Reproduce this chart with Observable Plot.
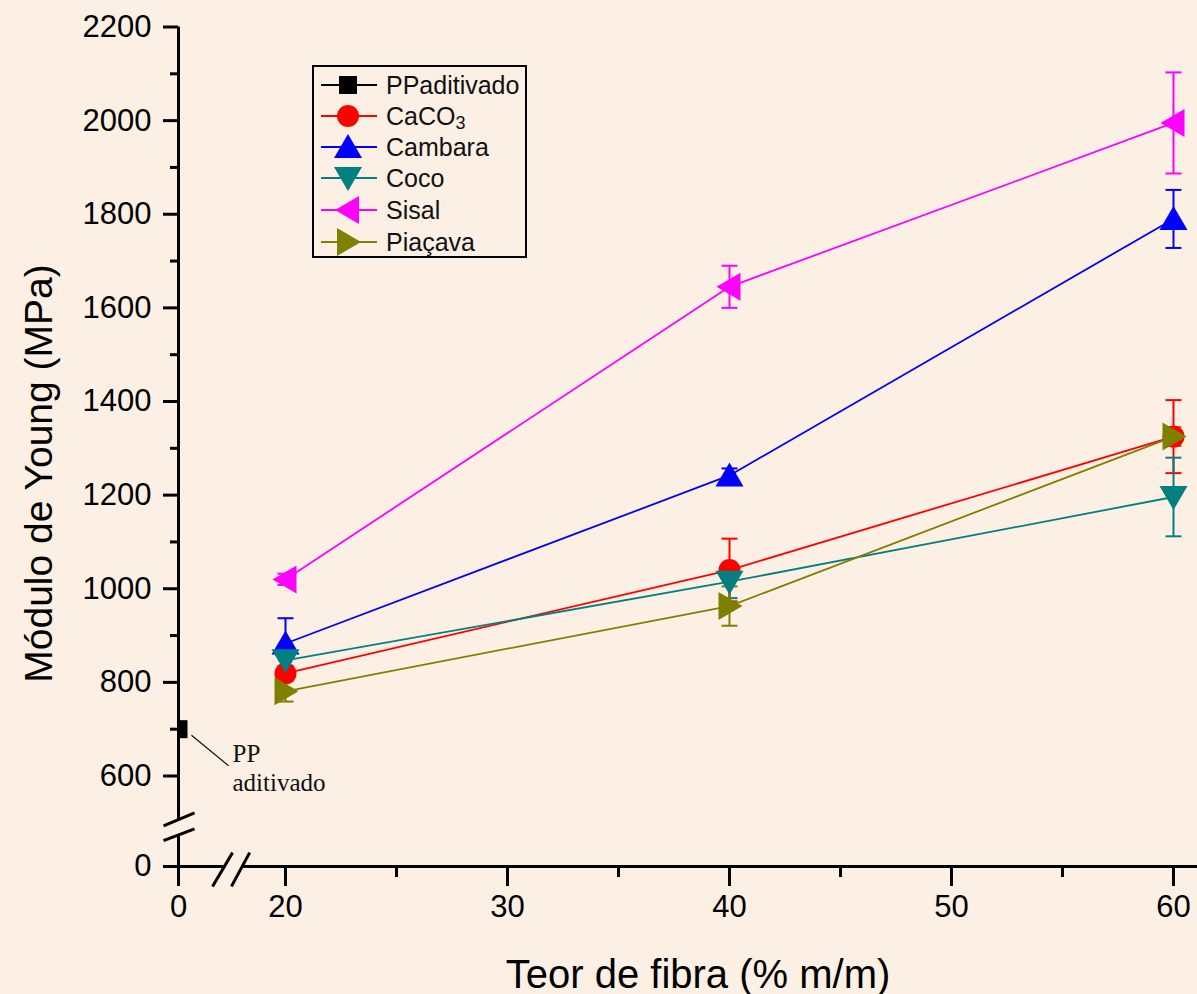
<!DOCTYPE html>
<html><head><meta charset="utf-8">
<script src="https://cdn.jsdelivr.net/npm/d3@7"></script>
<script src="https://cdn.jsdelivr.net/npm/@observablehq/plot@0.6"></script>
<style>
html,body{margin:0;padding:0;background:#fcefe3;}
#chart{position:relative;width:1197px;height:994px;}
</style></head><body><div id="chart"></div>
<script>
// ---- data ----
const fibra = [20, 40, 60];
const seriesNames = ["PPaditivado", "CaCO3", "Cambara", "Coco", "Sisal", "Piaçava"];
const seriesColors = ["#000000", "#ff0000", "#0000ff", "#008080", "#ff00ff", "#808000"];
const ppX = [0];
const ppY = [700];
const caco3 = [819, 1040, 1325];
const caco3Err = [15, 67, 78];
const cambara = [883, 1242, 1790];
const cambaraErr = [54, 15, 62];
const coco = [847, 1015, 1196];
const cocoErr = [12, 35, 84];
const sisal = [1020, 1645, 1995];
const sisalErr = [12, 45, 108];
const piacava = [781, 963, 1325];
const piacavaErr = [22, 42, 20];
const xTicks = [0, 20, 30, 40, 50, 60];
const xMinor = [25, 35, 45, 55];
const yTicks = [0, 600, 800, 1000, 1200, 1400, 1600, 1800, 2000, 2200];
const yMinor = [700, 900, 1100, 1300, 1500, 1700, 1900, 2100];
const xTitle = "Teor de fibra (% m/m)";
const yTitle = "Módulo de Young (MPa)";
const ppNote = "PP\naditivado";

// ---- symbols ----
const poly = pts => ({draw(ctx) { ctx.moveTo(pts[0][0], pts[0][1]); for (const p of pts.slice(1)) ctx.lineTo(p[0], p[1]); ctx.closePath(); }});
const symSquare = {draw(ctx) { ctx.rect(-9, -9, 18, 18); }};
const symCircle = {draw(ctx) { ctx.moveTo(11, 0); ctx.arc(0, 0, 11, 0, 2 * Math.PI); }};
const symUp = poly([[0, -13], [14, 11], [-14, 11]]);
const symDown = poly([[0, 13], [14, -11], [-14, -11]]);
const symLeft = poly([[-13, 0], [11, -14], [11, 14]]);
const symRight = poly([[13, 0], [-11, -14], [-11, 14]]);
const symCap = {draw(ctx) { ctx.moveTo(-8, 0); ctx.lineTo(8, 0); }};
const symbols = [symSquare, symCircle, symUp, symDown, symLeft, symRight];

const values = [ppY, caco3, cambara, coco, sisal, piacava];
const errs = [[0], caco3Err, cambaraErr, cocoErr, sisalErr, piacavaErr];
const tables = values.map((v, i) => v.map((y, j) => ({
  x: i === 0 ? ppX[j] : fibra[j], y, lo: y - errs[i][j], hi: y + errs[i][j]
})));

// axis break layout (data units of the broken scales)
const xAxisSegs = [{x1: 0, x2: 8.4}, {x1: 11.8, x2: 61.1}];
const yAxisSegs = [{y1: 0, y2: 211}, {y1: 310, y2: 2200}];
const breakSlashes = [
  {x1: 6.36, y1: -132, x2: 10.1, y2: 92}, {x1: 9.9, y1: -132, x2: 13.3, y2: 92},
  {x1: -2.8, y1: 171, x2: 3.0, y2: 250}, {x1: -2.8, y1: 270, x2: 3.0, y2: 356}
];
const leader = [{x1: 2.43, y1: 687, x2: 9.35, y2: 622}];

const marks = [];
// data lines
tables.forEach((t, i) => { if (t.length > 1) marks.push(Plot.line(t, {x: "x", y: "y", stroke: seriesColors[i], strokeWidth: 1.8})); });
// error bars
tables.forEach((t, i) => {
  if (i === 0) return;
  marks.push(Plot.ruleX(t, {x: "x", y1: "lo", y2: "hi", stroke: seriesColors[i], strokeWidth: 2}));
  marks.push(Plot.dot(t, {x: "x", y: "hi", symbol: symCap, r: 8, fill: "none", stroke: seriesColors[i], strokeWidth: 2}));
  marks.push(Plot.dot(t, {x: "x", y: "lo", symbol: symCap, r: 8, fill: "none", stroke: seriesColors[i], strokeWidth: 2}));
});
// markers
tables.forEach((t, i) => {
  marks.push(Plot.dot(t, {x: "x", y: "y", symbol: symbols[i], r: 10, fill: seriesColors[i], stroke: "none", clip: i === 0}));
});
// annotation
marks.push(Plot.link(leader, {x1: "x1", y1: "y1", x2: "x2", y2: "y2", stroke: "#111", strokeWidth: 1.2}));
marks.push(Plot.text(tables[0], {x: "x", y: "y", text: () => ppNote, dx: 54, dy: 12, lineAnchor: "top", textAnchor: "start",
  fontFamily: "Liberation Serif, Times New Roman, serif", fontSize: 25, lineHeight: 1.16, fill: "#111"}));
// axes
marks.push(Plot.ruleY(xAxisSegs, {y: 0, x1: "x1", x2: "x2", stroke: "#000", strokeWidth: 3}));
marks.push(Plot.ruleX(yAxisSegs, {x: 0, y1: "y1", y2: "y2", stroke: "#000", strokeWidth: 3}));
marks.push(Plot.link(breakSlashes, {x1: "x1", y1: "y1", x2: "x2", y2: "y2", stroke: "#000", strokeWidth: 3}));
marks.push(Plot.axisX(xTicks, {tickSize: 20, tickPadding: 8, fontSize: 31, tickFormat: d => String(d), strokeWidth: 3, label: null}));
marks.push(Plot.axisX(xMinor, {tickSize: 11, tickFormat: () => "", strokeWidth: 3, label: null}));
marks.push(Plot.axisY(yTicks, {tickSize: 15, tickPadding: 12, fontSize: 31, tickFormat: d => String(d), strokeWidth: 3, label: null}));
marks.push(Plot.axisY(yMinor, {tickSize: 8, tickFormat: () => "", strokeWidth: 3, label: null}));
// titles
marks.push(Plot.text([xTitle], {frameAnchor: "bottom", text: d => d, dx: 10, dy: 121, lineAnchor: "bottom", textAnchor: "middle", fontSize: 40, fill: "#000"}));
marks.push(Plot.text([yTitle], {frameAnchor: "left", text: d => d, rotate: -90, dx: -139, dy: 30, lineAnchor: "middle", textAnchor: "middle", fontSize: 39, fill: "#000"}));

const plot = Plot.plot({
  width: 1197, height: 994,
  marginLeft: 178, marginRight: 0, marginTop: 20, marginBottom: 128,
  style: {background: "#fcefe3", fontFamily: "Liberation Sans, Arial, sans-serif", color: "#000", overflow: "visible"},
  x: {type: "linear", domain: [0, 20, 60], range: [178, 285, 1173], axis: null},
  y: {type: "linear", domain: [0, 600, 2200], range: [866, 775.5, 26.5], axis: null},
  marks
});

// legend (drawn into the same svg)
const svg = d3.select(plot);
const lg = svg.append("g").attr("font-family", "Liberation Sans, Arial, sans-serif").attr("text-anchor", "start");
lg.append("rect").attr("x", 313).attr("y", 66).attr("width", 213).attr("height", 191)
  .attr("fill", "none").attr("stroke", "#000").attr("stroke-width", 2);
const rowY = [85, 116, 147, 178, 210, 242];
seriesNames.forEach((name, i) => {
  const y = rowY[i];
  lg.append("line").attr("x1", 321).attr("x2", 377).attr("y1", y).attr("y2", y)
    .attr("stroke", seriesColors[i]).attr("stroke-width", 1.8);
  lg.append("path").attr("transform", `translate(348,${y})`)
    .attr("d", d3.symbol(symbols[i], 100)()).attr("fill", seriesColors[i]);
  const t = lg.append("text").attr("x", 386).attr("y", y + 9).attr("font-size", 25)
    .attr("text-anchor", "start").attr("fill", "#111");
  if (name === "CaCO3") {
    t.append("tspan").text("CaCO");
    t.append("tspan").attr("dy", 4).attr("font-size", 18).text("3");
  } else t.text(name);
});

document.getElementById("chart").appendChild(plot);
</script>
</body></html>
